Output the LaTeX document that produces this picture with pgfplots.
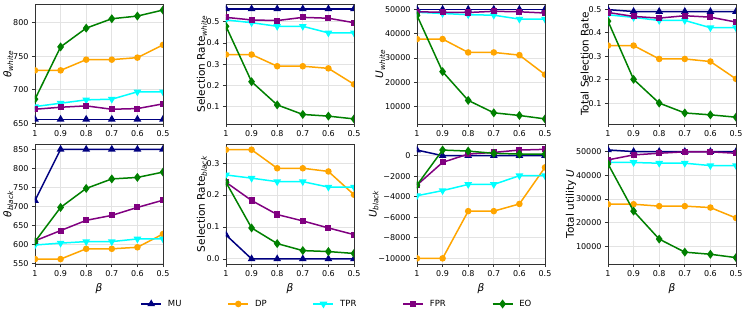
\documentclass[border=0pt]{standalone}
\usepackage{fontspec}
\setmainfont{DejaVu Sans}
\usepackage{pgfplots}
\pgfplotsset{compat=1.18}
\usepgfplotslibrary{groupplots}
\definecolor{mpnavy}{RGB}{0,0,128}
\definecolor{mporange}{RGB}{255,165,0}
\definecolor{mpcyan}{RGB}{0,255,255}
\definecolor{mppurple}{RGB}{128,0,128}
\definecolor{mpgreen}{RGB}{0,128,0}
\pgfplotsset{
  mu/.style={color=mpnavy, line width=1.5pt, mark=triangle*, mark size=3pt, mark options={solid}},
  dp/.style={color=mporange, line width=1.5pt, mark=*, mark size=2.5pt, mark options={solid}},
  tpr/.style={color=mpcyan, line width=1.5pt, mark=triangle*, mark size=3pt, mark options={solid, rotate=180}},
  fpr/.style={color=mppurple, line width=1.5pt, mark=square*, mark size=2.3pt, mark options={solid}},
  eo/.style={color=mpgreen, line width=1.5pt, mark=diamond*, mark size=3.3pt, mark options={solid}},
}
\begin{document}
\begin{tikzpicture}
\begin{groupplot}[
  group style={group size=4 by 2, horizontal sep=63pt, vertical sep=20pt},
  scale only axis, width=128pt, height=120pt,
  x dir=reverse, xmin=0.5, xmax=1,
  xtick={1,0.9,0.8,0.7,0.6,0.5},
  xticklabels={1,0.9,0.8,0.7,0.6,0.5},
  scaled y ticks=false,
  grid=major, grid style={gray!22, line width=0.8pt},
  axis line style={black!80, line width=0.7pt},
  tick style={black!80, line width=0.7pt},
  tick align=outside, major tick length=3pt,
  xtick pos=bottom, ytick pos=left,
  ticklabel style={font=\fontsize{8}{9}\selectfont},
  label style={font=\fontsize{10.5}{12}\selectfont},
  ylabel style={yshift=-7pt},
  clip marker paths=true,
  legend image code/.code={\draw[mark repeat=2,mark phase=2] plot coordinates {(0pt,0pt) (10pt,0pt) (20pt,0pt)};},
]
% ---- row 1 ----
\nextgroupplot[ymin=649, ymax=828, ytick={650,700,750,800}, yticklabels={650,700,750,800},
  ylabel={\textit{θ}\textsubscript{\textit{white}}}]
\addplot[mu] coordinates {(1,656)(0.9,656)(0.8,656)(0.7,656)(0.6,656)(0.5,656)};
\addplot[dp] coordinates {(1,729)(0.9,729)(0.8,745)(0.7,745)(0.6,748)(0.5,767)};
\addplot[tpr] coordinates {(1,675)(0.9,680)(0.8,685)(0.7,686)(0.6,697)(0.5,697)};
\addplot[fpr] coordinates {(1,671)(0.9,674)(0.8,676)(0.7,671)(0.6,672)(0.5,679)};
\addplot[eo] coordinates {(1,686)(0.9,764)(0.8,792)(0.7,806)(0.6,810)(0.5,819)};

\nextgroupplot[ymin=0.018, ymax=0.583, ytick={0.1,0.2,0.3,0.4,0.5}, yticklabels={0.1,0.2,0.3,0.4,0.5},
  ylabel={Selection Rate\textsubscript{\textit{white}}}]
\addplot[mu] coordinates {(1,0.56)(0.9,0.56)(0.8,0.56)(0.7,0.56)(0.6,0.56)(0.5,0.56)};
\addplot[dp] coordinates {(1,0.345)(0.9,0.345)(0.8,0.29)(0.7,0.29)(0.6,0.28)(0.5,0.205)};
\addplot[tpr] coordinates {(1,0.508)(0.9,0.495)(0.8,0.478)(0.7,0.478)(0.6,0.447)(0.5,0.447)};
\addplot[fpr] coordinates {(1,0.52)(0.9,0.508)(0.8,0.505)(0.7,0.52)(0.6,0.516)(0.5,0.495)};
\addplot[eo] coordinates {(1,0.478)(0.9,0.217)(0.8,0.108)(0.7,0.063)(0.6,0.055)(0.5,0.042)};

\nextgroupplot[ymin=2900, ymax=52200, ytick={10000,20000,30000,40000,50000}, yticklabels={10000,20000,30000,40000,50000},
  ylabel={\textit{U}\textsubscript{\textit{white}}}]
\addplot[mu] coordinates {(1,50000)(0.9,50000)(0.8,50000)(0.7,50000)(0.6,50000)(0.5,50000)};
\addplot[dp] coordinates {(1,37800)(0.9,37800)(0.8,32300)(0.7,32300)(0.6,31200)(0.5,23200)};
\addplot[tpr] coordinates {(1,48800)(0.9,48300)(0.8,47800)(0.7,47600)(0.6,46000)(0.5,46000)};
\addplot[fpr] coordinates {(1,49000)(0.9,48800)(0.8,48700)(0.7,49200)(0.6,49000)(0.5,48500)};
\addplot[eo] coordinates {(1,47500)(0.9,24400)(0.8,12600)(0.7,7500)(0.6,6400)(0.5,5000)};

\nextgroupplot[ymin=0.011, ymax=0.522, ytick={0.1,0.2,0.3,0.4,0.5}, yticklabels={0.1,0.2,0.3,0.4,0.5},
  ylabel={Total Selection Rate}]
\addplot[mu] coordinates {(1,0.498)(0.9,0.49)(0.8,0.49)(0.7,0.49)(0.6,0.49)(0.5,0.49)};
\addplot[dp] coordinates {(1,0.345)(0.9,0.345)(0.8,0.288)(0.7,0.288)(0.6,0.277)(0.5,0.203)};
\addplot[tpr] coordinates {(1,0.476)(0.9,0.465)(0.8,0.452)(0.7,0.452)(0.6,0.421)(0.5,0.421)};
\addplot[fpr] coordinates {(1,0.486)(0.9,0.469)(0.8,0.462)(0.7,0.472)(0.6,0.466)(0.5,0.445)};
\addplot[eo] coordinates {(1,0.449)(0.9,0.201)(0.8,0.1)(0.7,0.058)(0.6,0.05)(0.5,0.04)};

% ---- row 2 ----
\nextgroupplot[ymin=548, ymax=864, ytick={550,600,650,700,750,800,850}, yticklabels={550,600,650,700,750,800,850},
  ylabel={\textit{θ}\textsubscript{\textit{black}}}, xlabel={\textit{β}},
  legend columns=5,
  legend style={draw=none, fill=none, at={(2.359,-0.333)}, anchor=center,
    font=\fontsize{8.5}{10}\selectfont,
    /tikz/every odd column/.append style={column sep=4pt},
    /tikz/every even column/.append style={column sep=44pt}}]
\addplot[mu] coordinates {(1,715)(0.9,850)(0.8,850)(0.7,850)(0.6,850)(0.5,850)};
\addlegendentry{MU}
\addplot[dp] coordinates {(1,561)(0.9,561)(0.8,588)(0.7,588)(0.6,592)(0.5,627)};
\addlegendentry{DP}
\addplot[tpr] coordinates {(1,598)(0.9,603)(0.8,607)(0.7,607)(0.6,614)(0.5,614)};
\addlegendentry{TPR}
\addplot[fpr] coordinates {(1,609)(0.9,636)(0.8,663)(0.7,676)(0.6,697)(0.5,716)};
\addlegendentry{FPR}
\addplot[eo] coordinates {(1,607)(0.9,697)(0.8,747)(0.7,772)(0.6,776)(0.5,790)};
\addlegendentry{EO}

\nextgroupplot[ymin=-0.016, ymax=0.36, ytick={0,0.1,0.2,0.3}, yticklabels={0.0,0.1,0.2,0.3},
  ylabel={Selection Rate\textsubscript{\textit{black}}}, xlabel={\textit{β}}]
\addplot[mu] coordinates {(1,0.075)(0.9,0)(0.8,0)(0.7,0)(0.6,0)(0.5,0)};
\addplot[dp] coordinates {(1,0.342)(0.9,0.342)(0.8,0.284)(0.7,0.284)(0.6,0.274)(0.5,0.201)};
\addplot[tpr] coordinates {(1,0.263)(0.9,0.253)(0.8,0.242)(0.7,0.242)(0.6,0.225)(0.5,0.225)};
\addplot[fpr] coordinates {(1,0.24)(0.9,0.183)(0.8,0.139)(0.7,0.119)(0.6,0.097)(0.5,0.076)};
\addplot[eo] coordinates {(1,0.24)(0.9,0.097)(0.8,0.048)(0.7,0.026)(0.6,0.023)(0.5,0.017)};

\nextgroupplot[ymin=-10550, ymax=1140, ytick={-10000,-8000,-6000,-4000,-2000,0},
  yticklabels={−10000,−8000,−6000,−4000,−2000,0},
  ylabel={\textit{U}\textsubscript{\textit{black}}}, xlabel={\textit{β}}]
\addplot[mu] coordinates {(1,550)(0.9,0)(0.8,0)(0.7,0)(0.6,0)(0.5,0)};
\addplot[dp] coordinates {(1,-10000)(0.9,-10000)(0.8,-5400)(0.7,-5400)(0.6,-4700)(0.5,-1140)};
\addplot[tpr] coordinates {(1,-3900)(0.9,-3400)(0.8,-2800)(0.7,-2800)(0.6,-1950)(0.5,-1950)};
\addplot[fpr] coordinates {(1,-2860)(0.9,-650)(0.8,160)(0.7,320)(0.6,550)(0.5,620)};
\addplot[eo] coordinates {(1,-2860)(0.9,550)(0.8,450)(0.7,230)(0.6,160)(0.5,160)};

\nextgroupplot[ymin=2600, ymax=53200, ytick={10000,20000,30000,40000,50000}, yticklabels={10000,20000,30000,40000,50000},
  ylabel={Total utility \textit{U}}, xlabel={\textit{β}}]
\addplot[mu] coordinates {(1,50700)(0.9,50000)(0.8,50000)(0.7,50000)(0.6,50000)(0.5,50000)};
\addplot[dp] coordinates {(1,27800)(0.9,27800)(0.8,27000)(0.7,27000)(0.6,26400)(0.5,22000)};
\addplot[tpr] coordinates {(1,45400)(0.9,45400)(0.8,45100)(0.7,45100)(0.6,44100)(0.5,44100)};
\addplot[fpr] coordinates {(1,46500)(0.9,48600)(0.8,49300)(0.7,49900)(0.6,49900)(0.5,49300)};
\addplot[eo] coordinates {(1,44800)(0.9,24900)(0.8,13100)(0.7,7600)(0.6,6700)(0.5,5300)};
\end{groupplot}
\pgfresetboundingbox
\path (group c1r1.north west) ++(-35pt,4pt) rectangle ++(747pt,-318pt);
\end{tikzpicture}
\end{document}
